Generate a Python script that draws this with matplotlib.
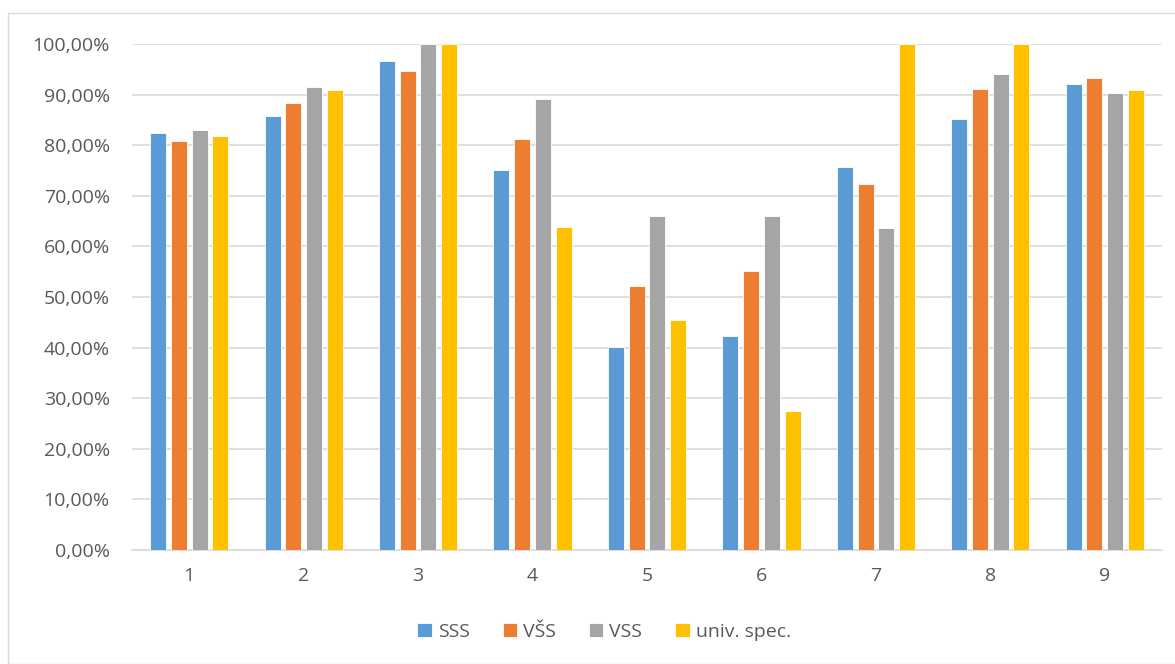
import matplotlib
matplotlib.use("Agg")
import matplotlib.pyplot as plt
from matplotlib.patches import Rectangle
from matplotlib.ticker import FuncFormatter
import numpy as np

categories = ["1", "2", "3", "4", "5", "6", "7", "8", "9"]
series_names = ["SSS", "VŠS", "VSS", "univ. spec."]
sss  = [82.4, 85.8, 96.7, 75.0, 40.2, 42.3, 75.7, 85.2, 92.0]
vss_ = [80.8, 88.3, 94.7, 81.3, 52.1, 55.1, 72.4, 91.2, 93.3]
vss  = [83.1, 91.6, 100.0, 89.2, 66.1, 66.1, 63.6, 94.1, 90.4]
univ = [81.9, 91.0, 100.0, 63.8, 45.5, 27.4, 100.0, 100.0, 91.0]
colors = ["#5b9bd5", "#ed7d31", "#a5a5a5", "#ffc000"]

plt.rcParams["font.family"] = ["Open Sans", "DejaVu Sans"]
fig = plt.figure(figsize=(11.75, 6.64), dpi=100)
ax = fig.add_axes([132 / 1175, 1 - 550 / 664, 1030 / 1175, 506 / 664])

x = np.arange(1, len(categories) + 1)
pitch, width = 0.181, 0.14
for i, (vals, c, name) in enumerate(zip([sss, vss_, vss, univ], colors, series_names)):
    ax.bar(x + (i - 1.5) * pitch, vals, width=width, color=c, label=name,
           edgecolor="white", linewidth=0.6, zorder=3)

ax.set_xlim(0.5, 9.5)
ax.set_ylim(0, 100)
ax.set_yticks(range(0, 101, 10))
ax.yaxis.set_major_formatter(FuncFormatter(lambda v, p: f"{v:.2f}".replace(".", ",") + "%"))
ax.set_xticks(x)
ax.set_xticklabels(categories)
ax.grid(axis="y", color="#d9d9d9", linewidth=1.2, zorder=0)
for s in ["top", "right", "left"]:
    ax.spines[s].set_visible(False)
ax.spines["bottom"].set_color("#d9d9d9")
ax.spines["bottom"].set_linewidth(1.2)
ax.tick_params(axis="both", length=0, labelsize=14, colors="#595959")
ax.tick_params(axis="y", pad=16)
ax.tick_params(axis="x", pad=12)

fig.patches.append(Rectangle((8 / 1175, 0), 1.0, 1 - 13 / 664, transform=fig.transFigure,
                             fill=False, edgecolor="#d9d9d9", linewidth=1))

fig.legend(loc="center", bbox_to_anchor=(604 / 1175, 1 - 632 / 664), ncol=4, frameon=False,
           fontsize=14, handlelength=0.75, handleheight=0.75, handletextpad=0.3,
           columnspacing=1.7, labelcolor="#595959")

fig.savefig("out.png", dpi=100)
